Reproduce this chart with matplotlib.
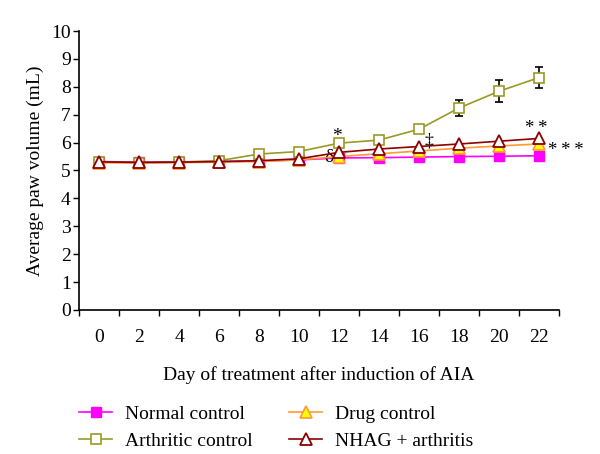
import matplotlib
matplotlib.use("Agg")
import matplotlib.pyplot as plt
from matplotlib.lines import Line2D
from matplotlib.ticker import FixedLocator, NullFormatter

plt.rcParams["font.family"] = ["Liberation Serif", "DejaVu Serif"]

days = [0, 2, 4, 6, 8, 10, 12, 14, 16, 18, 20, 22]
normal = [5.32, 5.30, 5.31, 5.32, 5.34, 5.38, 5.45, 5.46, 5.48, 5.50, 5.51, 5.53]
arthritic = [5.30, 5.28, 5.30, 5.35, 5.59, 5.68, 5.98, 6.09, 6.48, 7.24, 7.84, 8.33]
arthritic_err = [0, 0, 0, 0, 0, 0, 0, 0, 0, 0.27, 0.39, 0.39]
drug = [5.28, 5.27, 5.28, 5.30, 5.32, 5.38, 5.50, 5.60, 5.70, 5.80, 5.88, 5.95]
nhag = [5.31, 5.29, 5.30, 5.32, 5.35, 5.42, 5.65, 5.77, 5.86, 5.95, 6.05, 6.15]

OLIVE = "#999926"
FS = 14
TS = "\u2009"  # thin space between asterisks

fig = plt.figure(figsize=(6, 4.54), dpi=100)
ax = fig.add_axes([0.1317, 0.3172, 0.80, 0.6145])

h_norm, = ax.plot(days, normal, color="#ff00ff", lw=1.2, marker="s", ms=7,
                  mfc="#ff00ff", mec="#ff00ff", zorder=3)
ax.errorbar(days, arthritic, yerr=arthritic_err, color=OLIVE, lw=1.2,
            marker="s", ms=7.5, mfc="white", mec=OLIVE, mew=1.2,
            ecolor="black", elinewidth=1.2, capsize=3, capthick=1.2, zorder=4)
h_arth = Line2D([], [], color=OLIVE, lw=1.2, marker="s", ms=7.5,
                mfc="white", mec=OLIVE, mew=1.2)
h_drug, = ax.plot(days, drug, color="#ff9933", lw=1.2, marker="^", ms=8,
                  mfc="#ffff00", mec="#ff9933", mew=1.2, zorder=5)
h_nhag, = ax.plot(days, nhag, color="#8b0000", lw=1.2, marker="^", ms=8.5,
                  mfc="white", mec="#8b0000", mew=1.3, zorder=6)

# significance marks
ax.text(11.9, 5.92, "*", fontsize=FS, ha="center", va="bottom")
ax.text(11.5, 5.17, "δ", fontsize=FS, ha="center", va="bottom")
ax.text(16.5, 5.75, "‡", fontsize=13, ha="center", va="bottom")
ax.text(21.85, 6.21, TS.join("**"), fontsize=13.5, ha="center", va="bottom")
ax.text(22.45, 5.42, TS.join("***"), fontsize=13.5, ha="left", va="bottom",
        clip_on=False)

ax.set_xlim(-1, 23)
ax.set_ylim(0, 10)
ax.set_yticks(range(0, 11))
ax.xaxis.set_major_locator(FixedLocator(days))
ax.xaxis.set_minor_locator(FixedLocator(range(-1, 24, 2)))
ax.xaxis.set_minor_formatter(NullFormatter())
ax.tick_params(axis="x", which="major", length=0, pad=14, labelsize=FS)
ax.tick_params(axis="x", which="minor", length=4, width=1, direction="out")
ax.tick_params(axis="y", length=4, width=1, direction="out", labelsize=FS, pad=2)

for s in ("top", "right"):
    ax.spines[s].set_visible(False)
for s in ("left", "bottom"):
    ax.spines[s].set_linewidth(1.2)

ax.set_xlabel("Day of treatment after induction of AIA", fontsize=FS, labelpad=14)
ax.set_ylabel("Average paw volume (mL)", fontsize=FS, labelpad=5)

fig.legend([h_norm, h_arth, h_drug, h_nhag],
           ["Normal control", "Arthritic control", "Drug control", "NHAG + arthritis"],
           ncol=2, loc="upper left", bbox_to_anchor=(0.1317, 0.108), frameon=False,
           fontsize=FS, handlelength=1.7, columnspacing=1.9, labelspacing=0.5,
           handletextpad=0.65, borderaxespad=0, borderpad=0)

fig.savefig("out.png", dpi=100, facecolor="white")
